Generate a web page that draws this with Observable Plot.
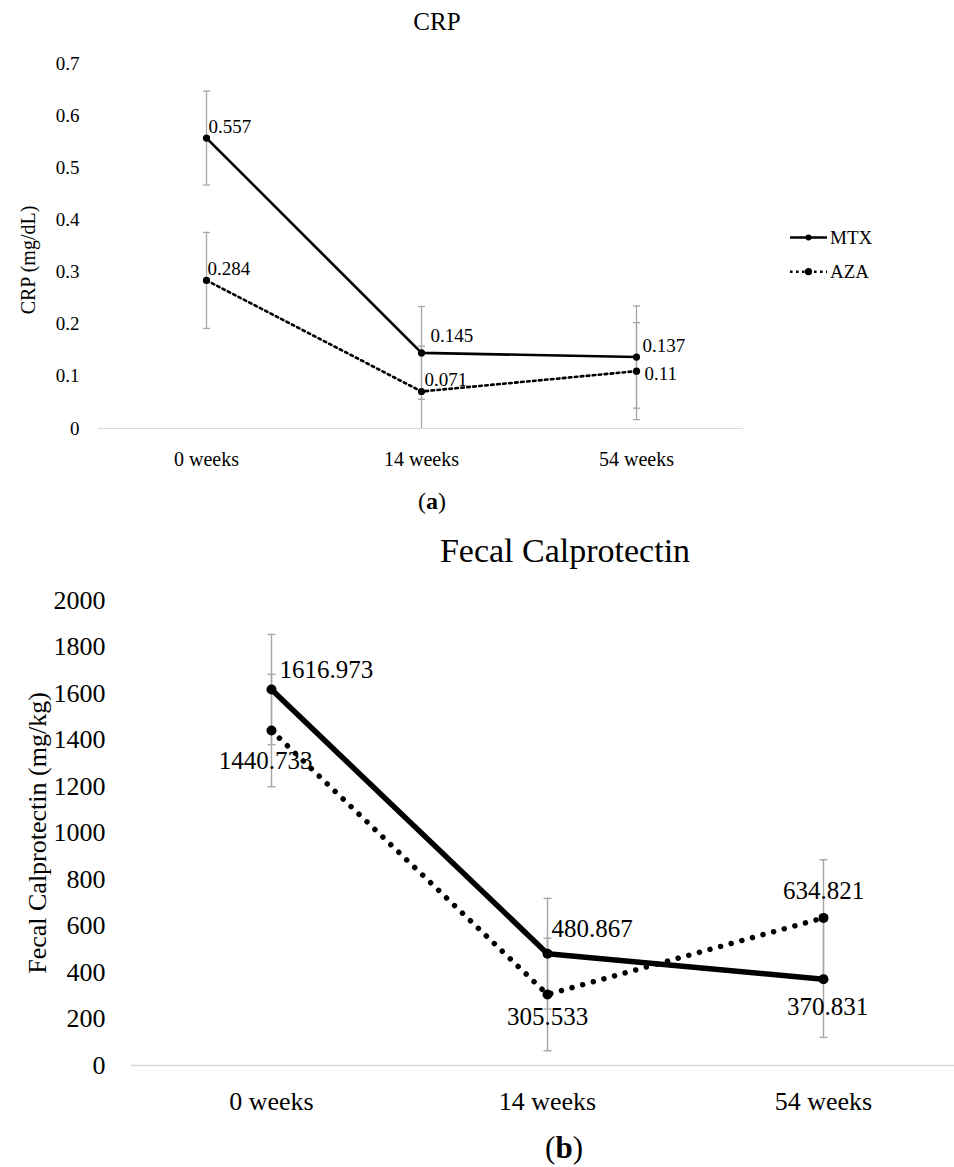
<!DOCTYPE html>
<html><head><meta charset="utf-8">
<script src="https://cdn.jsdelivr.net/npm/d3@7"></script>
<script src="https://cdn.jsdelivr.net/npm/@observablehq/plot@0.6"></script>
<style>
body{margin:0;background:#fff;font-family:"Liberation Serif",serif;color:#000;}
#wrap{position:relative;width:954px;height:1167px;overflow:hidden;background:#fff;}
.abs{position:absolute;line-height:1;white-space:nowrap;text-align:center;}
#wrap svg{position:absolute;left:0;}
#wrap svg text{font-family:"Liberation Serif",serif;}
</style></head><body><div id="wrap"></div>
<script>
// ---- data ----
const weeks = ["0 weeks", "14 weeks", "54 weeks"];
const seriesNames = ["MTX", "AZA"];
const crpMTX = [0.557, 0.145, 0.137];
const crpAZA = [0.284, 0.071, 0.11];
const crpErrMTX = [0.09, 0.089, 0.098];
const crpErrAZA = [0.092, 0.087, 0.093];
const crpTicks = [0, 0.1, 0.2, 0.3, 0.4, 0.5, 0.6, 0.7];
const fcMTX = [1616.973, 480.867, 370.831];
const fcAZA = [1440.733, 305.533, 634.821];
const fcErrMTX = [237, 238, 250];
const fcErrAZA = [242, 242, 250];
const fcTicks = [0, 200, 400, 600, 800, 1000, 1200, 1400, 1600, 1800, 2000];

const FONT = "Liberation Serif";
const wrap = document.getElementById("wrap");

function rows(values, errs, series) {
  return weeks.map((w, i) => ({week: w, value: values[i], err: errs[i], series, i}));
}
function caps(data, ymax) {
  return data.flatMap(d => [d.value + d.err, d.value - d.err]
    .filter(v => v >= 0 && v <= ymax).map(v => ({week: d.week, v})));
}
// horizontal cap symbol for error bars
const capSymbol = {draw(ctx, size) { const r = Math.sqrt(size / Math.PI); ctx.moveTo(-r, 0); ctx.lineTo(r, 0); }};
function addHTML(html, style) {
  const el = document.createElement("div");
  el.className = "abs";
  el.innerHTML = html;
  Object.assign(el.style, style);
  wrap.appendChild(el);
}

// ---- chart (a) CRP ----
const aM = rows(crpMTX, crpErrMTX, "MTX");
const aA = rows(crpAZA, crpErrAZA, "AZA");
const aAll = [...aM, ...aA];
const labelPosA = {MTX: [[2, -11, "start"], [9, -17, "start"], [6, -11, "start"]],
                   AZA: [[1, -12, "start"], [3, -12, "start"], [8, 3, "start"]]};
const labelsA = aAll.map(d => {
  const [dx, dy, ta] = labelPosA[d.series][d.i];
  return Plot.text([d], {x: "week", y: "value", text: d => String(d.value), dx, dy, textAnchor: ta, fontSize: 19, fontFamily: FONT});
});

const plotA = Plot.plot({
  width: 954, height: 520,
  marginTop: 63, marginBottom: 92, marginLeft: 98, marginRight: 211,
  style: {fontFamily: FONT, fontSize: "19px", color: "#000", background: "transparent", overflow: "visible"},
  x: {type: "point", domain: weeks, range: [206, 636], padding: 0},
  y: {domain: [0, 0.7]},
  marks: [
    Plot.ruleY([0], {stroke: "#d9d9d9", strokeWidth: 1.2}),
    Plot.ruleX(aAll, {x: "week", y1: d => Math.max(0, d.value - d.err), y2: d => d.value + d.err, stroke: "#a6a6a6", strokeWidth: 1.3}),
    Plot.dot(caps(aAll, 0.7), {x: "week", y: "v", symbol: capSymbol, r: 3.5, stroke: "#a6a6a6", strokeWidth: 1.3, fill: "none"}),
    Plot.line(aA, {x: "week", y: "value", stroke: "#000", strokeWidth: 2.6, strokeDasharray: "2.6,3.4"}),
    Plot.line(aM, {x: "week", y: "value", stroke: "#000", strokeWidth: 2.6}),
    Plot.dot(aAll, {x: "week", y: "value", r: 3.6, fill: "#000"}),
    ...labelsA,
    Plot.axisY({ticks: crpTicks, tickSize: 0, tickPadding: 19, tickFormat: d => String(d), label: null, fontSize: 19, fontFamily: FONT}),
    Plot.axisX({tickSize: 0, tickPadding: 23, label: null, fontSize: 20, fontFamily: FONT}),
    Plot.text(["CRP (mg/dL)"], {text: d => d, frameAnchor: "left", rotate: -90, dx: -70, dy: 14, fontSize: 20, fontFamily: FONT, lineAnchor: "middle", textAnchor: "middle"})
  ]
});
plotA.style.top = "0px";
wrap.appendChild(plotA);

addHTML("CRP", {left: "337px", width: "200px", top: "9px", fontSize: "25px"});
addHTML("(<b>a</b>)", {left: "332px", width: "200px", top: "489px", fontSize: "24px"});

// legend for (a)
const leg = d3.create("svg").attr("width", 130).attr("height", 70)
  .style("left", "780px").style("top", "220px");
const legItems = [{name: seriesNames[0], dash: null, y: 17.5, r: 3},
                  {name: seriesNames[1], dash: "2.6,3.4", y: 51.7, r: 3.6}];
legItems.forEach(it => {
  leg.append("line").attr("x1", 10).attr("x2", 47).attr("y1", it.y).attr("y2", it.y)
    .attr("stroke", "#000").attr("stroke-width", 2.6).attr("stroke-dasharray", it.dash);
  leg.append("circle").attr("cx", 28.5).attr("cy", it.y).attr("r", it.r).attr("fill", "#000");
  leg.append("text").attr("x", 50).attr("y", it.y).attr("dy", "0.34em")
    .attr("font-family", FONT).attr("font-size", 19).text(it.name);
});
wrap.appendChild(leg.node());

// ---- chart (b) Fecal Calprotectin ----
const bM = rows(fcMTX, fcErrMTX, "MTX");
const bA = rows(fcAZA, fcErrAZA, "AZA");
const bAll = [...bM, ...bA];
const labelPosB = {MTX: [[8, -20, "start"], [4, -25, "start"], [4, 28, "middle"]],
                   AZA: [[-6, 30, "middle"], [0, 23, "middle"], [0, -27, "middle"]]};
const labelsB = bAll.map(d => {
  const [dx, dy, ta] = labelPosB[d.series][d.i];
  return Plot.text([d], {x: "week", y: "value", text: d => String(d.value), dx, dy, textAnchor: ta, fontSize: 25, fontFamily: FONT});
});

const plotB = Plot.plot({
  width: 954, height: 600,
  marginTop: 80, marginBottom: 55, marginLeft: 131, marginRight: 0,
  style: {fontFamily: FONT, fontSize: "25px", color: "#000", background: "transparent", overflow: "visible"},
  x: {type: "point", domain: weeks, range: [270, 823], padding: 0},
  y: {domain: [0, 2000]},
  marks: [
    Plot.ruleY([0], {stroke: "#d9d9d9", strokeWidth: 1.5}),
    Plot.ruleX(bAll, {x: "week", y1: d => Math.max(0, d.value - d.err), y2: d => d.value + d.err, stroke: "#a6a6a6", strokeWidth: 1.4}),
    Plot.dot(caps(bAll, 2000), {x: "week", y: "v", symbol: capSymbol, r: 4, stroke: "#a6a6a6", strokeWidth: 1.4, fill: "none"}),
    Plot.line(bA, {x: "week", y: "value", stroke: "#000", strokeWidth: 5.5, strokeDasharray: "0.01,11", strokeLinecap: "round"}),
    Plot.line(bM, {x: "week", y: "value", stroke: "#000", strokeWidth: 5.5}),
    Plot.dot(bAll, {x: "week", y: "value", r: 5, fill: "#000"}),
    ...labelsB,
    Plot.axisY({ticks: fcTicks, tickSize: 0, tickPadding: 26, tickFormat: d => String(d), label: null, fontSize: 26, fontFamily: FONT}),
    Plot.axisX({tickSize: 0, tickPadding: 26, label: null, fontSize: 26, fontFamily: FONT}),
    Plot.text(["Fecal Calprotectin (mg/kg)"], {text: d => d, frameAnchor: "left", rotate: -90, dx: -93.5, dy: 0, fontSize: 26, fontFamily: FONT, lineAnchor: "middle", textAnchor: "middle"})
  ]
});
plotB.style.top = "520px";
wrap.appendChild(plotB);

addHTML("Fecal Calprotectin", {left: "365px", width: "400px", top: "534px", fontSize: "34px"});
addHTML("(<b>b</b>)", {left: "464px", width: "200px", top: "1132px", fontSize: "31px"});
</script>
</body></html>
